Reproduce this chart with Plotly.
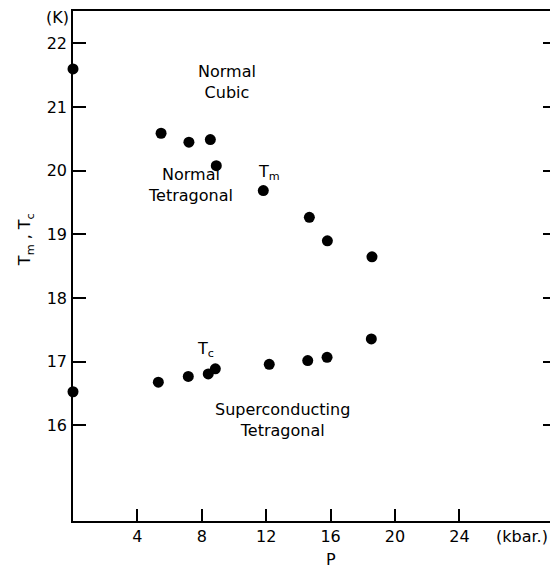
import plotly.graph_objects as go

# Data
p_tm = [0.0, 5.47, 7.2, 8.53, 8.9, 11.82, 14.68, 15.8, 18.57]
tm = [21.6, 20.59, 20.45, 20.49, 20.08, 19.69, 19.27, 18.90, 18.65]

p_tc = [0.0, 5.3, 7.16, 8.4, 8.84, 12.19, 14.58, 15.78, 18.53]
tc = [16.53, 16.68, 16.77, 16.81, 16.89, 16.96, 17.02, 17.07, 17.36]

x_ticks = [4, 8, 12, 16, 20, 24]
y_ticks = [16, 17, 18, 19, 20, 21, 22]

FONT = "DejaVu Sans"

fig = go.Figure()
fig.add_trace(go.Scatter(x=p_tm, y=tm, mode="markers",
                         marker=dict(color="black", size=11), cliponaxis=False,
                         showlegend=False))
fig.add_trace(go.Scatter(x=p_tc, y=tc, mode="markers",
                         marker=dict(color="black", size=11), cliponaxis=False,
                         showlegend=False))

ann_font = dict(family=FONT, size=16, color="black")
base = dict(showarrow=False, xanchor="center", yanchor="middle", font=ann_font)
annotations = [
    dict(x=9.57, y=21.39, text="Normal<br>Cubic", align="center", xref="x", yref="y", **base),
    dict(x=7.27, y=19.78, text="Normal<br>Tetragonal", align="center", xref="x", yref="y", **base),
    dict(x=12.17, y=19.98, text="T<sub>m</sub>", xref="x", yref="y", **base),
    dict(x=8.26, y=17.2, text="T<sub>c</sub>", xref="x", yref="y", **base),
    dict(x=13.04, y=16.09, text="Superconducting<br>Tetragonal", align="center",
         xref="x", yref="y", **base),
    dict(x=27.9, y=-0.031, text="(kbar.)", xref="x", yref="paper", **base),
    dict(x=-0.033, y=0.988, text="(K)", xref="paper", yref="paper", **base),
    dict(x=16.0, y=-0.076, text="P", xref="x", yref="paper", **base),
    dict(x=-0.097, y=0.551, text="T<sub>m</sub> , T<sub>c</sub>", xref="paper", yref="paper",
         textangle=-90, **base),
]

fig.update_layout(
    width=550, height=565,
    margin=dict(l=65, r=2, t=3, b=52),
    paper_bgcolor="white", plot_bgcolor="white",
    font=dict(family=FONT, size=16, color="black"),
    annotations=annotations,
    showlegend=False,
)
fig.update_xaxes(range=[0, 30], tickvals=x_ticks, ticktext=[str(v) for v in x_ticks],
                 ticks="inside", ticklen=12, tickwidth=1.5, tickcolor="black",
                 showline=True, linecolor="black", linewidth=1.5, mirror=True,
                 showgrid=False, zeroline=False, ticklabelstandoff=0, automargin=False)
fig.update_yaxes(range=[14.5, 22.51], tickvals=y_ticks, ticktext=[str(v) for v in y_ticks],
                 ticks="inside", ticklen=13, tickwidth=1.5, tickcolor="black",
                 showline=True, linecolor="black", linewidth=1.5, mirror="ticks",
                 showgrid=False, zeroline=False, ticklabelstandoff=1, automargin=False)

fig.write_html("out.html")
